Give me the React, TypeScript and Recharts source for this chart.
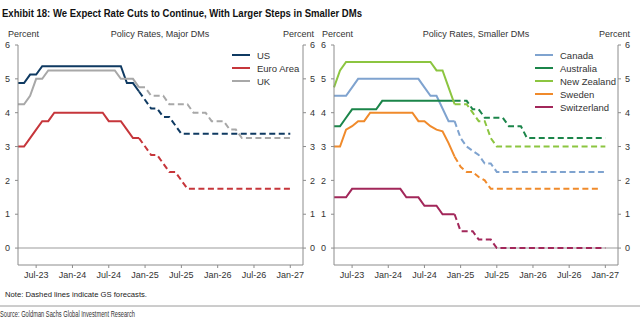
import React from 'react'
import { LineChart, Line, XAxis, YAxis, ReferenceLine, Legend } from 'recharts'

const FONT = '"Liberation Sans", Arial, Helvetica, sans-serif'

// monthly points, Apr-23 .. Jan-27
const months = [
    'Apr-23', 'May-23', 'Jun-23', 'Jul-23', 'Aug-23', 'Sep-23', 'Oct-23', 'Nov-23', 'Dec-23',
    'Jan-24', 'Feb-24', 'Mar-24', 'Apr-24', 'May-24', 'Jun-24', 'Jul-24', 'Aug-24', 'Sep-24', 'Oct-24', 'Nov-24', 'Dec-24',
    'Jan-25', 'Feb-25', 'Mar-25', 'Apr-25', 'May-25', 'Jun-25', 'Jul-25', 'Aug-25', 'Sep-25', 'Oct-25', 'Nov-25', 'Dec-25',
    'Jan-26', 'Feb-26', 'Mar-26', 'Apr-26', 'May-26', 'Jun-26', 'Jul-26', 'Aug-26', 'Sep-26', 'Oct-26', 'Nov-26', 'Dec-26',
    'Jan-27',
]
const lastActual = 'Dec-24'
const yTicks = [0, 1, 2, 3, 4, 5, 6]

const us = [
    4.875, 4.875, 5.125, 5.125, 5.375, 5.375, 5.375, 5.375, 5.375, 5.375, 5.375, 5.375, 5.375, 5.375, 5.375, 5.375, 5.375, 5.375,
    4.875, 4.875, 4.625, 4.375, 4.125, 4.125, 3.875, 3.875, 3.625, 3.375,
    3.375, 3.375, 3.375, 3.375, 3.375, 3.375, 3.375, 3.375, 3.375, 3.375, 3.375, 3.375, 3.375, 3.375, 3.375, 3.375, 3.375, 3.375,
]
const euroArea = [
    3.0, 3.0, 3.25, 3.5, 3.75, 3.75, 4.0,
    4.0, 4.0, 4.0, 4.0, 4.0, 4.0, 4.0, 4.0,
    3.75, 3.75, 3.75, 3.5, 3.25, 3.25, 3.0, 2.75, 2.75, 2.5, 2.25, 2.25, 2.0, 1.75,
    1.75, 1.75, 1.75, 1.75, 1.75, 1.75, 1.75, 1.75, 1.75, 1.75, 1.75, 1.75, 1.75, 1.75, 1.75, 1.75, 1.75,
]
const uk = [
    4.25, 4.25, 4.5, 5.0, 5.0, 5.25,
    5.25, 5.25, 5.25, 5.25, 5.25, 5.25, 5.25, 5.25, 5.25, 5.25, 5.25,
    5.0, 5.0, 5.0, 4.75, 4.75, 4.5, 4.5, 4.5, 4.25, 4.25, 4.25, 4.25, 4.0, 4.0, 4.0, 3.75, 3.75, 3.75, 3.5, 3.5, 3.25,
    3.25, 3.25, 3.25, 3.25, 3.25, 3.25, 3.25, 3.25,
]
const canada = [
    4.5, 4.5, 4.5, 4.75, 5.0,
    5.0, 5.0, 5.0, 5.0, 5.0, 5.0, 5.0, 5.0, 5.0, 5.0,
    4.75, 4.5, 4.5, 4.125, 3.75, 3.75, 3.25, 3.0, 2.875, 2.75, 2.5, 2.5, 2.25,
    2.25, 2.25, 2.25, 2.25, 2.25, 2.25, 2.25, 2.25, 2.25, 2.25, 2.25, 2.25, 2.25, 2.25, 2.25, 2.25, 2.25, 2.25,
]
const australia = [
    3.6, 3.6, 3.85, 4.1, 4.1, 4.1, 4.1, 4.1, 4.35,
    4.35, 4.35, 4.35, 4.35, 4.35, 4.35, 4.35, 4.35, 4.35, 4.35, 4.35, 4.35, 4.35, 4.35,
    4.1, 4.1, 3.85, 3.85, 3.85, 3.85, 3.6, 3.6, 3.6, 3.25,
    3.25, 3.25, 3.25, 3.25, 3.25, 3.25, 3.25, 3.25, 3.25, 3.25, 3.25, 3.25, 3.25,
]
const newZealand = [
    4.75, 5.25, 5.5,
    5.5, 5.5, 5.5, 5.5, 5.5, 5.5, 5.5, 5.5, 5.5, 5.5, 5.5, 5.5, 5.5, 5.5,
    5.25, 5.25, 4.75, 4.25, 4.25, 4.25, 4.0, 3.75, 3.75, 3.25, 3.0,
    3.0, 3.0, 3.0, 3.0, 3.0, 3.0, 3.0, 3.0, 3.0, 3.0, 3.0, 3.0, 3.0, 3.0, 3.0, 3.0, 3.0, 3.0,
]
const sweden = [
    3.0, 3.0, 3.5, 3.6, 3.75, 3.75, 4.0,
    4.0, 4.0, 4.0, 4.0, 4.0, 4.0, 4.0,
    3.75, 3.75, 3.6, 3.5, 3.45, 3.1, 2.7, 2.4, 2.25, 2.25, 2.1, 2.0, 1.75,
    1.75, 1.75, 1.75, 1.75, 1.75, 1.75, 1.75, 1.75, 1.75, 1.75, 1.75, 1.75, 1.75, 1.75, 1.75, 1.75, 1.75, 1.75,
]
const switzerland = [
    1.5, 1.5, 1.5, 1.75,
    1.75, 1.75, 1.75, 1.75, 1.75, 1.75, 1.75, 1.75,
    1.5, 1.5, 1.5, 1.25, 1.25, 1.25, 1.0, 1.0, 1.0, 0.5, 0.5, 0.5, 0.25, 0.25, 0.25, 0,
    0, 0, 0, 0, 0, 0, 0, 0, 0, 0, 0, 0, 0, 0, 0, 0, 0, 0,
]

interface Series {
    key: string,
    name: string,
    color: string,
    values: number[]
}

const majorDMs: Series[] = [
    { key: 'us', name: 'US', color: '#0f3a62', values: us },
    { key: 'ea', name: 'Euro Area', color: '#c6363b', values: euroArea },
    { key: 'uk', name: 'UK', color: '#a8a8a8', values: uk },
]

const smallerDMs: Series[] = [
    { key: 'ca', name: 'Canada', color: '#7fa3cf', values: canada },
    { key: 'au', name: 'Australia', color: '#1b854a', values: australia },
    { key: 'nz', name: 'New Zealand', color: '#8cc540', values: newZealand },
    { key: 'se', name: 'Sweden', color: '#f08a2b', values: sweden },
    { key: 'ch', name: 'Switzerland', color: '#a2275a', values: switzerland },
]

const splitIdx = months.indexOf(lastActual)
const xTicks = months.map((m, i) => (m.startsWith('Jul') || m.startsWith('Jan') ? i : -1)).filter(i => i >= 0)

const buildRows = (series: Series[]) =>
    months.map((_, i) => {
        const row: Record<string, number | null> = { x: i }
        series.forEach(s => {
            row[s.key + 'A'] = i <= splitIdx ? s.values[i] : null
            row[s.key + 'F'] = i >= splitIdx ? s.values[i] : null
        })
        return row
    })

const tickStyle = { fontSize: 9, fill: '#333', fontFamily: FONT }

const LegendBox = ({ items }: { items: Series[] }) => (
    <div style={{ fontFamily: FONT, fontSize: 9.5, color: '#333' }}>
        {items.map(s => (
            <div key={s.key} style={{ display: 'flex', alignItems: 'center', height: 12.9 }}>
                <span style={{ display: 'inline-block', width: 18, borderTop: `2.5px solid ${s.color}`, marginRight: 7 }} />
                <span>{s.name}</span>
            </div>
        ))}
    </div>
)

const Panel = ({ series, left, leftW, rightW, legendX }: { series: Series[], left: number, leftW: number, rightW: number, legendX: number }) => {
    const data = buildRows(series)
    return (
        <div style={{ position: 'absolute', left, top: 0 }}>
            <LineChart width={320} height={285} data={data} margin={{ top: 45, right: 0, bottom: 0, left: 0 }}>
                <XAxis
                    type="number"
                    dataKey="x"
                    domain={[0, 47.1]}
                    ticks={xTicks}
                    tickFormatter={(i: number) => months[i]}
                    height={20}
                    tickSize={3}
                    tickMargin={4}
                    stroke="#8c8c8c"
                    tick={tickStyle}
                    interval={0}
                />
                <YAxis yAxisId="l" domain={[-0.5, 6]} ticks={yTicks} width={leftW} tickSize={3} tickMargin={5}
                    stroke="#8c8c8c" tick={tickStyle} allowDataOverflow />
                <YAxis yAxisId="r" orientation="right" domain={[-0.5, 6]} ticks={yTicks} width={rightW} tickSize={3} tickMargin={4}
                    stroke="#8c8c8c" tick={tickStyle} allowDataOverflow />
                <ReferenceLine yAxisId="l" y={0} stroke="#bdbdbd" strokeWidth={1.5} />
                {series.map(s => (
                    <Line key={s.key + 'A'} yAxisId="l" type="linear" dataKey={s.key + 'A'} stroke={s.color} strokeWidth={2}
                        dot={false} activeDot={false} isAnimationActive={false} />
                ))}
                {series.map(s => (
                    <Line key={s.key + 'F'} yAxisId="l" type="linear" dataKey={s.key + 'F'} stroke={s.color} strokeWidth={2}
                        strokeDasharray="6 3.5" dot={false} activeDot={false} isAnimationActive={false} />
                ))}
                <Legend layout="vertical" align="center" verticalAlign="middle"
                    wrapperStyle={{ top: 49, left: legendX, width: 90, bottom: 'auto' }}
                    content={() => <LegendBox items={series} />} />
            </LineChart>
        </div>
    )
}

const txt = { fontFamily: FONT, fontSize: 9, fill: '#333' }

const App = () => {
    return (
        <div style={{ position: 'absolute', left: 0, top: 0, width: 640, height: 324, background: '#fff', overflow: 'hidden' }}>
            <Panel series={majorDMs} left={0} leftW={18} rightW={17} legendX={232} />
            <Panel series={smallerDMs} left={320} leftW={14} rightW={22} legendX={215} />
            <svg width={640} height={324} style={{ position: 'absolute', left: 0, top: 0, pointerEvents: 'none' }}>
                <text x={2} y={17} fontFamily={FONT} fontSize={10.5} fontWeight="bold" fill="#111"
                    textLength={360} lengthAdjust="spacingAndGlyphs">
                    Exhibit 18: We Expect Rate Cuts to Continue, With Larger Steps in Smaller DMs
                </text>
                <text x={8} y={37} {...txt}>Percent</text>
                <text x={160} y={37} textAnchor="middle" {...txt}>Policy Rates, Major DMs</text>
                <text x={283} y={37} {...txt}>Percent</text>
                <text x={322} y={37} {...txt}>Percent</text>
                <text x={476} y={37} textAnchor="middle" {...txt}>Policy Rates, Smaller DMs</text>
                <text x={599} y={37} {...txt}>Percent</text>
                <text x={5} y={297} fontFamily={FONT} fontSize={8} fill="#222" textLength={142} lengthAdjust="spacingAndGlyphs">
                    Note: Dashed lines indicate GS forecasts.
                </text>
                <line x1={0} x2={640} y1={306} y2={306} stroke="#9a9a9a" strokeWidth={1} />
                <text x={0} y={317} fontFamily={FONT} fontSize={8.5} fill="#333" textLength={135} lengthAdjust="spacingAndGlyphs">
                    Source: Goldman Sachs Global Investment Research
                </text>
            </svg>
        </div>
    )
}

export default App
